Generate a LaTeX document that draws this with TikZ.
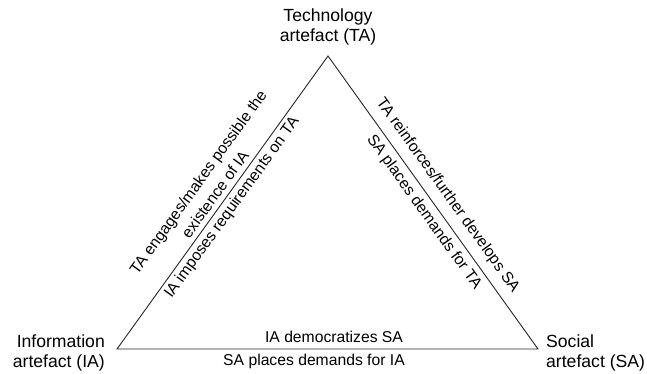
\documentclass[tikz,border=0pt]{standalone}
\usepackage{fontspec}
\setmainfont{Liberation Sans}
\begin{document}
\begin{tikzpicture}[x=1pt,y=-1pt,
  vertexlabel/.style={inner sep=0pt,font=\fontsize{17.6}{20}\selectfont},
  edgelabel/.style={inner sep=0pt,font=\fontsize{15.7}{21}\selectfont},
  edge/.style={draw=black!85,line width=0.9pt}]
\useasboundingbox (0,0) rectangle (647,374);
\coordinate (A) at (117,349);
\coordinate (T) at (328,56);
\coordinate (S) at (538,349);
\draw[edge] (A) -- (T) -- (S) -- cycle;
\node[vertexlabel,align=center,anchor=north] (ta) at (328,8.5) {Technology\\artefact (TA)};
\node[vertexlabel,align=right,anchor=north east] (ia) at (105,334.5) {Information\\artefact (IA)};
\node[vertexlabel,align=left,anchor=north west] (sa) at (546,334.5) {Social\\artefact (SA)};
\node[edgelabel,align=center,rotate=54.2] (l1) at (206.5,188) {TA engages/makes possible the\\existence of IA};
\node[edgelabel,rotate=54.2] (l2) at (232.2,207.8) {IA imposes requirements on TA};
\node[edgelabel,rotate=-54.4] (r1) at (447.6,195.4) {TA reinforces/further develops SA};
\node[edgelabel,rotate=-54.4] (r2) at (424,212.3) {SA places demands for TA};
\node[edgelabel,anchor=base] (b1) at (334,342) {IA democratizes SA};
\node[edgelabel,anchor=base] (b2) at (314,365) {SA places demands for IA};
\end{tikzpicture}
\end{document}
